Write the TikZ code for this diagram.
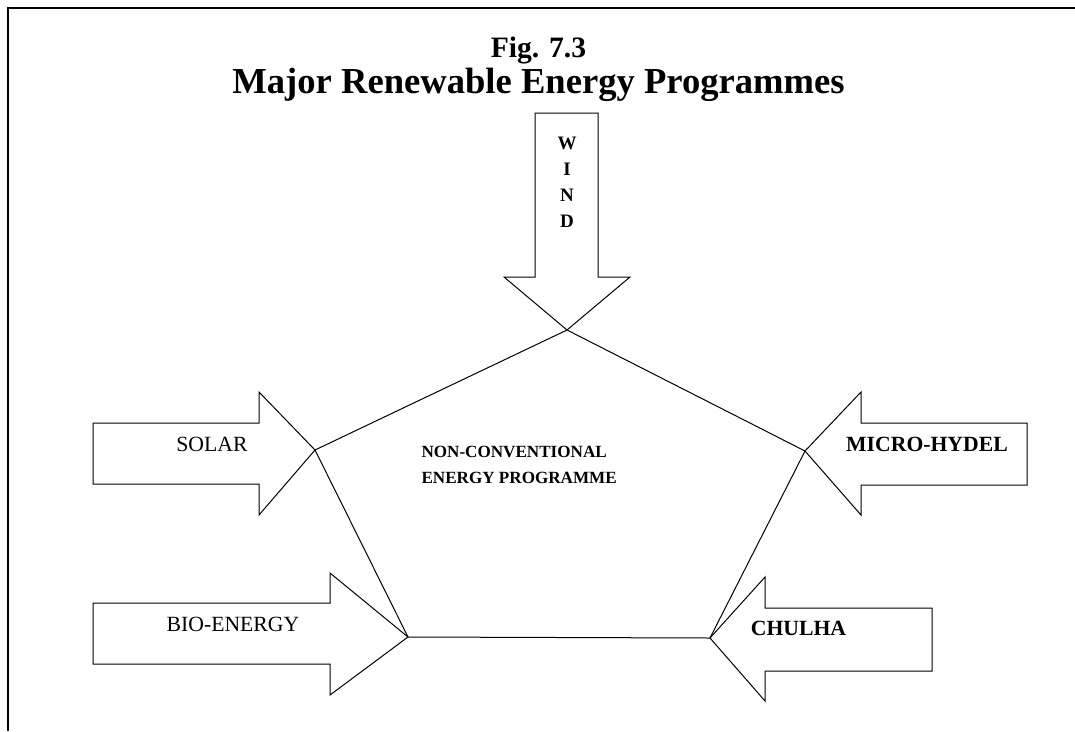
\documentclass[tikz,border=0pt]{standalone}
\usepackage{fontspec}
\setmainfont{Liberation Serif}
\usepackage{xcolor}
\usepackage{tikz}
\usetikzlibrary{positioning, calc}

\begin{document}
\begin{tikzpicture}[x=1pt, y=-1pt,
    blockarrow/.style={draw, line width=1pt, line join=miter},
    plainlabel/.style={font=\fontsize{21.7}{26}\selectfont},
    boldlabel/.style={font=\fontsize{21.7}{26}\selectfont\bfseries}]
    \useasboundingbox (0,0) rectangle (1075,731);

    % Frame (top and left only)
    \draw[line width=2pt] (8,731) -- (8,8) -- (1075,8);

    % Heading
    \node[font=\fontsize{29.6}{34}\selectfont\bfseries, anchor=base] (fig) at (538.5,57) {Fig. 7.3};
    \node[font=\fontsize{36.6}{42}\selectfont\bfseries, anchor=base] (title) at (538.5,93) {Major Renewable Energy Programmes};

    % Pentagon corners
    \coordinate (ptop) at (567,330);
    \coordinate (pright) at (805,451);
    \coordinate (pbr) at (710,638);
    \coordinate (pbl) at (408,637);
    \coordinate (pleft) at (315,450);
    \draw[blockarrow] (ptop) -- (pright) -- (pbr) -- (pbl) -- (pleft) -- cycle;
    \node[font=\fontsize{17.1}{26}\selectfont\bfseries, align=left, anchor=west] (centre) at (418,465)
        {NON-CONVENTIONAL\\ENERGY PROGRAMME};

    % Wind
    \draw[blockarrow] (535,113) -- (598,113) -- (598,277) -- (630,277) -- (ptop)
        -- (504,277) -- (535,277) -- cycle;
    \foreach \l [count=\i] in {W,I,N,D}
        \node[font=\fontsize{19}{22}\selectfont\bfseries] (wind-\i) at (567,117+26*\i) {\l};

    % Solar
    \draw[blockarrow] (93,423) -- (259,423) -- (259,392) -- (pleft)
        -- (259,515) -- (259,484) -- (93,484) -- cycle;
    \node[plainlabel] (solar) at (212,444) {SOLAR};

    % Bio-energy
    \draw[blockarrow] (93,603) -- (330,603) -- (330,573) -- (pbl)
        -- (330,695) -- (330,664) -- (93,664) -- cycle;
    \node[plainlabel] (bio) at (233,624) {BIO-ENERGY};

    % Micro-hydel
    \draw[blockarrow] (1027,423) -- (861,423) -- (861,392) -- (pright)
        -- (861,515) -- (861,485) -- (1027,485) -- cycle;
    \node[boldlabel] (hydel) at (927,444) {MICRO-HYDEL};

    % Chulha
    \draw[blockarrow] (932,608) -- (765,608) -- (765,577) -- (pbr)
        -- (765,701) -- (765,671) -- (932,671) -- cycle;
    \node[boldlabel] (chulha) at (798.5,628) {CHULHA};
\end{tikzpicture}
\end{document}
